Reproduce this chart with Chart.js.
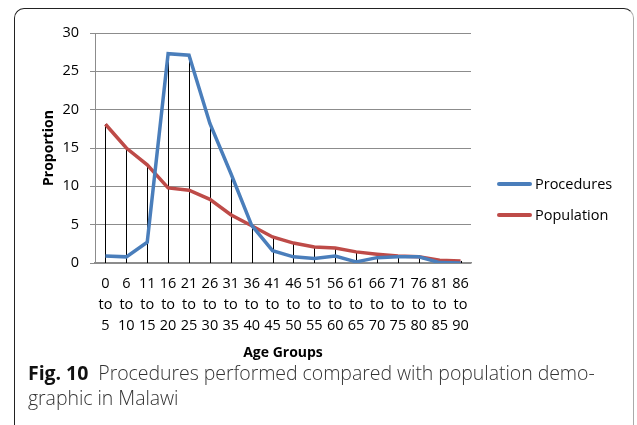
<!DOCTYPE html>
<html>
<head>
<meta charset="utf-8">
<style>
  html, body { margin: 0; padding: 0; background: #fff; }
  #wrap { position: relative; width: 637px; height: 425px; overflow: hidden; }
  #frame {
    position: absolute; left: 14px; top: 8px; width: 620px; height: 440px;
    border-top: 1.5px solid #222; border-left: 1.5px solid #222; border-right: 1px solid #aaa;
    border-radius: 10px 10px 0 0; box-sizing: border-box;
  }
  #chartBox { position: absolute; left: 0; top: 0; width: 637px; height: 370px; }
  #legend { position: absolute; left: 497px; top: 168px; font-family: "Open Sans", sans-serif; font-size: 14.5px; color: #000; }
  #legend .row { display: flex; align-items: center; height: 31px; }
  #legend .swatch { width: 35px; height: 4px; border-radius: 2px; margin-right: 3px; }
  #caption {
    position: absolute; left: 28px; top: 360px; width: 610px;
    font-family: "Open Sans", "Noto Sans", sans-serif; font-size: 19.5px; line-height: 25px;
    color: #333; font-weight: 300; letter-spacing: -0.05px;
  }
  #caption b { font-weight: 700; color: #111; }
</style>
</head>
<body>
<div id="wrap">
  <div id="frame"></div>
  <div id="chartBox"><canvas id="ageChart" width="637" height="370"></canvas></div>
  <div id="legend"></div>
  <div id="caption"><b>Fig. 10</b>&nbsp; Procedures performed compared with population demo-<br>graphic in Malawi</div>
</div>

<script src="https://cdn.jsdelivr.net/npm/chart.js"></script>
<script>
// age group labels (three lines each)
const ageStart = ['0','6','11','16','21','26','31','36','41','46','51','56','61','66','71','76','81','86'];
const ageEnd   = ['5','10','15','20','25','30','35','40','45','50','55','60','65','70','75','80','85','90'];

// proportions
const procedures = [0.9, 0.8, 2.7, 27.3, 27.1, 18.2, 11.7, 4.9, 1.6, 0.8, 0.6, 0.9, 0.15, 0.7, 0.8, 0.8, 0.05, 0.0];
const population = [18.1, 15.0, 12.8, 9.8, 9.5, 8.3, 6.3, 4.85, 3.4, 2.6, 2.1, 1.95, 1.45, 1.15, 0.9, 0.8, 0.35, 0.27];

const yTicks = [0, 5, 10, 15, 20, 25, 30];

const labels = ageStart.map((s, i) => [s, 'to', ageEnd[i]]);
const gridGrey = '#8c8c8c';
const font = { family: 'Open Sans', size: 14.5 };
const boldFont = { family: 'Open Sans', size: 14, weight: 'bold' };

// excel style drop lines from the highest point down to the axis
const dropLines = {
  id: 'dropLines',
  beforeDatasetsDraw(chart) {
    const { ctx, scales: { x, y } } = chart;
    ctx.save();
    ctx.strokeStyle = '#000';
    ctx.lineWidth = 1;
    labels.forEach((l, i) => {
      const top = Math.max(procedures[i], population[i]);
      const px = Math.round(x.getPixelForValue(i)) + 0.5;
      ctx.beginPath();
      ctx.moveTo(px, y.getPixelForValue(top));
      ctx.lineTo(px, y.getPixelForValue(0));
      ctx.stroke();
    });
    ctx.restore();
  }
};

const ctx = document.getElementById('ageChart').getContext('2d');
const ageChart = new Chart(ctx, {
  type: 'line',
  data: {
    labels: labels,
    datasets: [
      { label: 'Procedures', data: procedures, borderColor: '#4a7ebb', borderWidth: 3.5, pointRadius: 0, tension: 0 },
      { label: 'Population', data: population, borderColor: '#be4b48', borderWidth: 3.5, pointRadius: 0, tension: 0 }
    ]
  },
  options: {
    responsive: false,
    animation: false,
    layout: { padding: { top: 33, right: 166, left: 0, bottom: 0 } },
    plugins: { legend: { display: false }, tooltip: { enabled: false } },
    scales: {
      x: {
        offset: true,
        grid: { display: false },
        border: { display: true, color: gridGrey, width: 1.5 },
        ticks: { color: '#000', font: Object.assign({ lineHeight: 1.42 }, font), padding: 3, maxRotation: 0, autoSkip: false },
        title: { display: true, text: 'Age Groups', color: '#000', font: boldFont, padding: { top: 0, bottom: 9 } },
        afterFit(s) { s.height = 370 - 263; }
      },
      y: {
        min: 0, max: 30,
        afterBuildTicks(s) { s.ticks = yTicks.map(v => ({ value: v })); },
        grid: { color: gridGrey, tickLength: 5, drawTicks: true },
        border: { display: true, color: gridGrey },
        ticks: { color: '#000', font: font, padding: 11 },
        title: { display: true, text: 'Proportion', color: '#000', font: boldFont, padding: { top: 41, bottom: 0 } },
        afterFit(s) { s.width = 95; }
      }
    }
  },
  plugins: [dropLines]
});

// legend built from the datasets
const legend = document.getElementById('legend');
ageChart.data.datasets.forEach(ds => {
  const row = document.createElement('div');
  row.className = 'row';
  row.innerHTML = '<span class="swatch" style="background:' + ds.borderColor + '"></span><span>' + ds.label + '</span>';
  legend.appendChild(row);
});
</script>
</body>
</html>
